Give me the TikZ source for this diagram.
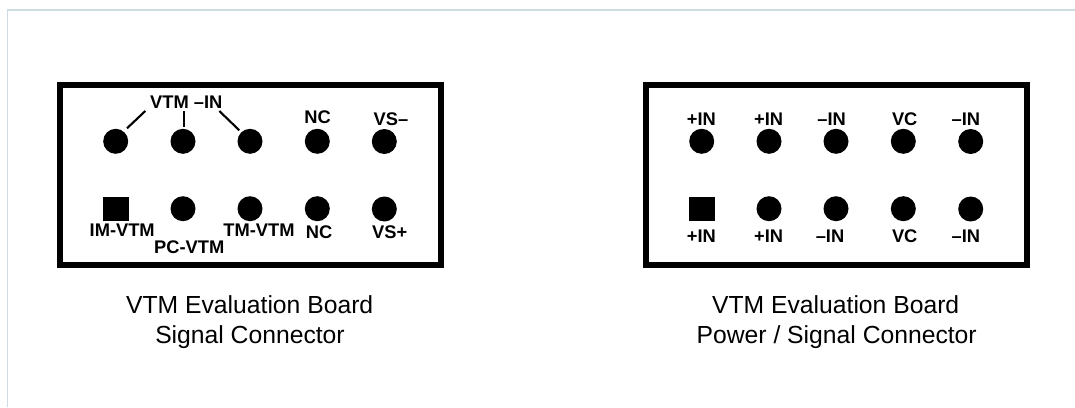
\documentclass[tikz,border=0pt]{standalone}
\usepackage{fontspec}
\setmainfont{Liberation Sans}
\tikzset{
  pinhole/.style={circle,fill=black,inner sep=0pt,minimum size=25pt},
  squarepin/.style={rectangle,fill=black,inner sep=0pt,minimum width=25.4pt,minimum height=24.8pt},
  board/.style={rectangle,draw=black,line width=6pt,fill=white,inner sep=0pt,minimum width=381pt,minimum height=180pt},
  pinlabel/.style={anchor=base,inner sep=0pt,font=\fontsize{18.3}{18}\selectfont\bfseries},
  caption/.style={anchor=base,inner sep=0pt,font=\fontsize{24.7}{30}\selectfont},
  lead/.style={line width=2.1pt,black},
  frame/.style={line width=1.3pt,color={rgb,255:red,208;green,220;blue,228}}
}
\begin{document}
\begin{tikzpicture}[x=1pt,y=-1pt]
\useasboundingbox (0,0) rectangle (1075,407);
\coordinate (fa) at (7.5,407);
\coordinate (fb) at (7.5,10);
\coordinate (fc) at (1075,10);
\draw[frame] (fa) -- (fb) -- (fc);

% left board
\node[board] (bl) at (250.4,175) {};
\node[pinhole] (a1) at (115.7,141.3) {};
\node[pinhole] (a2) at (183,141.3) {};
\node[pinhole] (a3) at (250,141.3) {};
\node[pinhole] (a4) at (317.3,141.3) {};
\node[pinhole] (a5) at (384.3,141.5) {};
\node[squarepin] (a6) at (116,209) {};
\node[pinhole] (a7) at (183,208.7) {};
\node[pinhole] (a8) at (250,208.7) {};
\node[pinhole] (a9) at (317.3,208.7) {};
\node[pinhole] (a10) at (384.3,209) {};

\node[pinlabel] (lvin) at (186.3,108.6) {VTM –IN};
\node[pinlabel] (lnc1) at (317.7,123.6) {NC};
\node[pinlabel] (lvsm) at (391,125.3) {VS–};
\node[pinlabel] (lim) at (122.2,236.3) {IM-VTM};
\node[pinlabel] (lpc) at (189.3,253.6) {PC-VTM};
\node[pinlabel] (ltm) at (259,236.3) {TM-VTM};
\node[pinlabel] (lnc2) at (319,238) {NC};
\node[pinlabel] (lvsp) at (389.7,238.6) {VS+};

\coordinate (c1a) at (145.3,111);
\coordinate (c1b) at (127,128.3);
\coordinate (c2a) at (183.7,111);
\coordinate (c2b) at (183.7,126.7);
\coordinate (c3a) at (219.3,111);
\coordinate (c3b) at (239.3,130.3);
\draw[lead] (c1a) -- (c1b);
\draw[lead] (c2a) -- (c2b);
\draw[lead] (c3a) -- (c3b);

\node[caption] (cl1) at (249.7,313.2) {VTM Evaluation Board};
\node[caption] (cl2) at (250,343.7) {Signal Connector};

% right board
\node[board] (br) at (836.4,175) {};
\node[pinhole] (b1) at (701.7,141.3) {};
\node[pinhole] (b2) at (769,141.3) {};
\node[pinhole] (b3) at (836,141.3) {};
\node[pinhole] (b4) at (903.3,141.3) {};
\node[pinhole] (b5) at (970.7,141.5) {};
\node[squarepin] (b6) at (702,209) {};
\node[pinhole] (b7) at (769,208.7) {};
\node[pinhole] (b8) at (836,208.7) {};
\node[pinhole] (b9) at (903.3,208.7) {};
\node[pinhole] (b10) at (970.7,209) {};

\node[pinlabel] (m1) at (701.3,125.3) {+IN};
\node[pinlabel] (m2) at (768.7,125.3) {+IN};
\node[pinlabel] (m3) at (831.7,125.3) {–IN};
\node[pinlabel] (m4) at (904.7,125.3) {VC};
\node[pinlabel] (m5) at (965.8,125.3) {–IN};
\node[pinlabel] (m6) at (701.3,242) {+IN};
\node[pinlabel] (m7) at (768.7,242) {+IN};
\node[pinlabel] (m8) at (830,242) {–IN};
\node[pinlabel] (m9) at (904.7,242) {VC};
\node[pinlabel] (m10) at (965.8,242) {–IN};

\node[caption] (cr1) at (835.7,313.2) {VTM Evaluation Board};
\node[caption] (cr2) at (836.7,343.7) {Power / Signal Connector};
\end{tikzpicture}
\end{document}
